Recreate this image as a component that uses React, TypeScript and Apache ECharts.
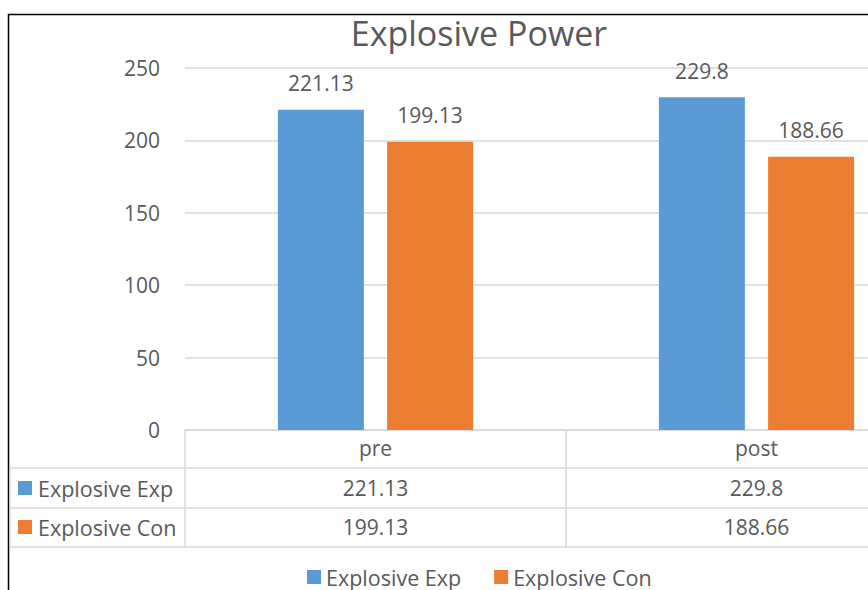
import React, { useEffect, useRef } from "react";
import * as echarts from "echarts";

const categories = ["pre", "post"];
const seriesNames = ["Explosive Exp", "Explosive Con"];
const expValues = [221.13, 229.8];
const conValues = [199.13, 188.66];
const colors = ["#5B9BD5", "#ED7D31"];
const titleText = "Explosive Power";

const FONT = "'Open Sans', sans-serif";
const TXT = "#595959";
const GRID = "#D9D9D9";

export default function App() {
  const ref = useRef<HTMLDivElement>(null);
  useEffect(() => {
    const chart = echarts.init(ref.current!, null, { renderer: "svg" });
    const values = [expValues, conValues];
    const option: any = {
      animation: false,
      backgroundColor: "#ffffff",
      textStyle: { fontFamily: FONT },
      grid: { left: 185, top: 68, width: 762, height: 362, outerBoundsMode: "none", containLabel: false },
      xAxis: {
        type: "category",
        data: categories,
        axisLine: { show: true, lineStyle: { color: GRID, width: 1.5 } },
        axisTick: { show: true, length: 117, alignWithLabel: false, lineStyle: { color: GRID, width: 1.5 } },
        axisLabel: { margin: 7, fontSize: 21, color: TXT, fontFamily: FONT },
        splitLine: { show: false },
      },
      yAxis: {
        type: "value",
        min: 0,
        max: 250,
        interval: 50,
        axisLine: { show: false },
        axisTick: { show: false },
        axisLabel: { margin: 25, fontSize: 21, color: TXT, fontFamily: FONT },
        splitLine: { lineStyle: { color: GRID, width: 1.5 } },
      },
      legend: {
        data: seriesNames,
        left: 307,
        top: 566,
        padding: 0,
        icon: "rect",
        itemWidth: 14,
        itemHeight: 14,
        itemGap: 33,
        textStyle: { fontSize: 21.5, lineHeight: 21, color: TXT, fontFamily: FONT },
      },
      series: seriesNames.map((name, i) => ({
        name,
        type: "bar",
        data: values[i],
        barWidth: 86,
        barGap: "27%",
        itemStyle: { color: colors[i] },
        label: {
          show: true,
          position: "top",
          distance: 16,
          fontSize: 21,
          color: TXT,
          fontFamily: FONT,
        },
      })),
    };
    chart.setOption(option);

    const rowY = [488, 527];
    const graphics: any[] = [
      {
        type: "rect",
        shape: { x: 8.5, y: 14.5, width: 1200, height: 900 },
        style: { fill: "none", stroke: "#000", lineWidth: 1.5 },
        silent: true,
      },
      {
        type: "text",
        x: 479,
        y: 33,
        style: {
          text: titleText,
          align: "center",
          verticalAlign: "middle",
          fontSize: 34,
          fontFamily: FONT,
          fill: TXT,
        },
      },
      ...[468, 508, 547].map((y) => ({
        type: "line",
        shape: { x1: 10, y1: y, x2: 1000, y2: y },
        style: { stroke: GRID, lineWidth: 1.5 },
      })),
      {
        type: "line",
        shape: { x1: 10, y1: 468, x2: 10, y2: 547 },
        style: { stroke: GRID, lineWidth: 1.5 },
      },
    ];
    seriesNames.forEach((name, r) => {
      graphics.push({
        type: "rect",
        shape: { x: 18, y: rowY[r] - 7, width: 14, height: 14 },
        style: { fill: colors[r] },
      });
      graphics.push({
        type: "text",
        x: 38,
        y: rowY[r],
        style: { text: name, verticalAlign: "middle", fontSize: 21.5, fontFamily: FONT, fill: TXT },
      });
      categories.forEach((c, j) => {
        const px = chart.convertToPixel({ xAxisIndex: 0 }, c) as number;
        graphics.push({
          type: "text",
          x: px,
          y: rowY[r],
          style: {
            text: String(values[r][j]),
            align: "center",
            verticalAlign: "middle",
            fontSize: 21,
            fontFamily: FONT,
            fill: TXT,
          },
        });
      });
    });
    chart.setOption({ graphic: graphics });
    return () => chart.dispose();
  }, []);
  return (
    <div
      ref={ref}
      style={{ position: "absolute", left: 0, top: 0, width: 868, height: 590 }}
    />
  );
}
